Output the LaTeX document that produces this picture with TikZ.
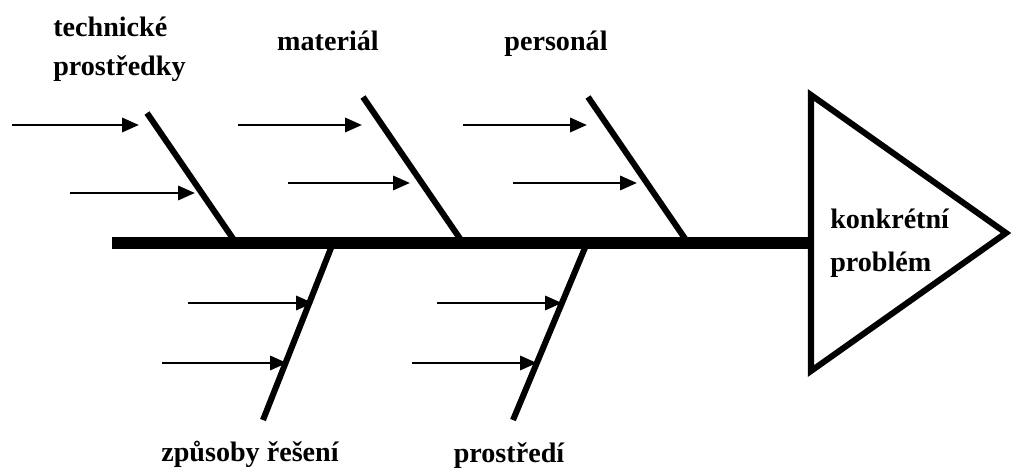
\documentclass[tikz,border=0pt]{standalone}
\usepackage{fontspec}
\setmainfont{Liberation Serif}
\usepackage{tikz}
\usetikzlibrary{arrows.meta}

\begin{document}
\begin{tikzpicture}[x=0.025cm,y=0.025cm,
  spine/.style={line width=8.5pt},
  bone/.style={line width=4.3pt},
  cause/.style={line width=2.1pt,-{Triangle[length=12pt,width=10pt]}},
  lbl/.style={font=\fontsize{20}{28}\selectfont\bfseries,inner sep=0pt}]
\useasboundingbox (0,0) rectangle (1013,472);
% head of the fish
\coordinate (headtop) at (811,377);
\coordinate (headbot) at (811,101);
\coordinate (headtip) at (1006,239);
\draw[line width=4.3pt,line join=miter] (headtop)--(headtip)--(headbot)--cycle;
\node[lbl,align=left,anchor=base west,font=\fontsize{20}{31}\selectfont\bfseries] (problem) at (830,200) {konkrétní\\problém};
% spine
\coordinate (tail) at (112,229);
\coordinate (neck) at (811,229);
\draw[spine] (tail)--(neck);
% bones
\foreach \n/\xt/\yt/\xs in {1/147/359/236,2/363/375/463,3/588/375/688}{
  \coordinate (top\n) at (\xt,\yt); \coordinate (s\n) at (\xs,229);
  \draw[bone] (top\n)--(s\n);
}
\foreach \n/\xs/\xb in {4/333/263,5/587/513}{
  \coordinate (s\n) at (\xs,229); \coordinate (bot\n) at (\xb,52);
  \draw[bone] (s\n)--(bot\n);
}
% causes
\foreach \n/\xa/\xb/\y in {1a/12/139/347,1b/70/195/279,2a/238/362/347,2b/288/410/289,
  3a/463/587/347,3b/513/637/289,4a/188/313/169,4b/162/287/109,5a/437/562/169,5b/412/537/109}{
  \coordinate (c\n) at (\xa,\y); \coordinate (e\n) at (\xb,\y);
  \draw[cause] (c\n)--(e\n);
}
% labels
\node[lbl,align=left,anchor=base west] (tech) at (53,396) {technické\\prostředky};
\node[lbl,anchor=base] (mat) at (328,421) {materiál};
\node[lbl,anchor=base] (pers) at (556,421) {personál};
\node[lbl,anchor=base] (ways) at (250,10) {způsoby řešení};
\node[lbl,anchor=base] (env) at (509,9) {prostředí};
\end{tikzpicture}
\end{document}
